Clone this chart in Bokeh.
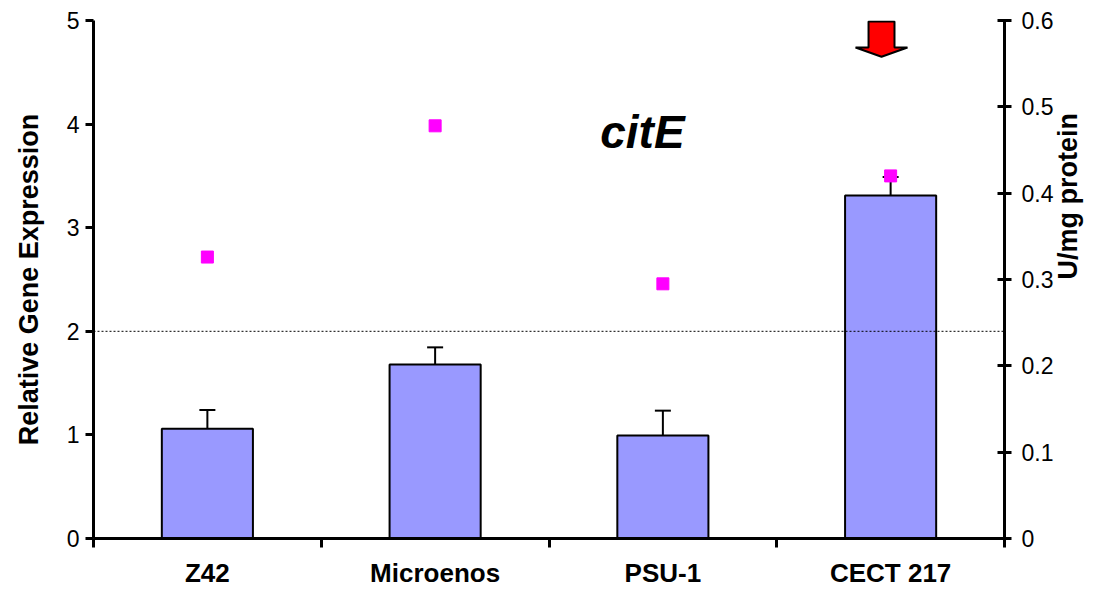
import math
from bokeh.plotting import figure
from bokeh.models import (Range1d, LinearAxis, FixedTicker, Span, Whisker,
                          TeeHead, ColumnDataSource, Label)
from bokeh.embed import file_html
from bokeh.resources import INLINE

# ---- data ----
strains = ["Z42", "Microenos", "PSU-1", "CECT 217"]
expression = [1.06, 1.68, 0.994, 3.31]          # relative gene expression (bars, left axis)
expression_err = [0.18, 0.165, 0.24, 0.18]     # upper error
activity = [0.326, 0.478, 0.295, 0.42]          # U/mg protein (squares, right axis)
left_ticks = [0, 1, 2, 3, 4, 5]
right_ticks = [0, 0.1, 0.2, 0.3, 0.4, 0.5, 0.6]
threshold = 2

FONT = "Liberation Sans"

xs = [i + 0.5 for i in range(len(strains))]

p = figure(width=1101, height=590, x_range=Range1d(0, len(strains)),
           y_range=Range1d(0, 5), output_backend="svg", toolbar_location=None,
           min_border_left=93, min_border_right=97, min_border_top=20,
           min_border_bottom=49)
p.extra_y_ranges = {"act": Range1d(0, 0.6)}
p.grid.visible = False
p.outline_line_color = None
p.background_fill_color = "white"

# bottom axis
xa = p.xaxis[0]
xa.ticker = FixedTicker(ticks=xs, minor_ticks=list(range(len(strains) + 1)))
xa.major_label_overrides = {x: s for x, s in zip(xs, strains)}
xa.major_tick_out = 0
xa.major_tick_in = 0
xa.minor_tick_out = 9
xa.minor_tick_in = 0
xa.minor_tick_line_width = 3
xa.minor_tick_line_color = "black"
xa.axis_line_width = 3
xa.axis_line_color = "black"
xa.major_label_standoff = 10
xa.major_label_text_font = FONT
xa.major_label_text_font_style = "bold"
xa.major_label_text_font_size = "26px"
xa.major_label_text_color = "black"

# left axis
ya = p.yaxis[0]
ya.ticker = FixedTicker(ticks=left_ticks)
ya.major_tick_out = 8
ya.major_tick_in = 0
ya.major_tick_line_width = 3
ya.minor_tick_line_color = None
ya.axis_line_width = 3
ya.major_label_standoff = 6
ya.major_label_text_font = FONT
ya.major_label_text_font_size = "23px"
ya.major_label_text_color = "black"
ya.axis_label = "Relative Gene Expression"
ya.axis_label_text_font = FONT
ya.axis_label_text_font_style = "bold"
ya.axis_label_text_font_size = "27px"
ya.axis_label_text_color = "black"
ya.axis_label_standoff = 20

# right axis
ra = LinearAxis(y_range_name="act", ticker=FixedTicker(ticks=right_ticks))
ra.major_label_overrides = {0: "0"}
ra.major_tick_out = 7
ra.major_tick_in = 7
ra.major_tick_line_width = 3
ra.minor_tick_line_color = None
ra.axis_line_width = 3
ra.major_label_standoff = 10
ra.major_label_text_font = FONT
ra.major_label_text_font_size = "23px"
ra.major_label_text_color = "black"
ra.axis_label = "U/mg protein"
ra.axis_label_text_font = FONT
ra.axis_label_text_font_style = "bold"
ra.axis_label_text_font_size = "27px"
ra.axis_label_text_color = "black"
ra.axis_label_standoff = 12
if "axis_label_orientation" in ra.properties():
    ra.axis_label_orientation = math.pi / 2
p.add_layout(ra, "right")

# threshold line
p.add_layout(Span(location=threshold, dimension="width", line_color="black",
                  line_width=1, line_dash="2 2"))

# bars
p.vbar(x=xs, top=expression, width=0.4, bottom=0, fill_color="#9999FF",
       line_color="black", line_width=2)

# error bars
src = ColumnDataSource(dict(x=xs, lo=expression,
                            hi=[e + d for e, d in zip(expression, expression_err)]))
p.add_layout(Whisker(base="x", lower="lo", upper="hi", source=src,
                     line_color="black", line_width=2, lower_head=None,
                     upper_head=TeeHead(size=16, line_width=2, line_color="black")))

# activity squares
p.scatter(xs, activity, marker="square", size=12, color="#FF00FF",
          y_range_name="act")

# red arrow above CECT 217
ax, head_hw, shaft_hw = 3.46, 0.114, 0.057
top_y, shoulder_y, tip_y = 4.99, 4.74, 4.65
p.patch([ax - shaft_hw, ax + shaft_hw, ax + shaft_hw, ax + head_hw, ax,
         ax - head_hw, ax - shaft_hw],
        [top_y, top_y, shoulder_y, shoulder_y, tip_y, shoulder_y, shoulder_y],
        fill_color="red", line_color="black", line_width=2)

# gene name
p.add_layout(Label(x=2.41, y=3.92, text="citE", text_align="center",
                   text_baseline="alphabetic", text_font=FONT,
                   text_font_style="bold italic", text_font_size="46px",
                   text_color="black"))

open("out.html", "w").write(file_html(p, INLINE))
